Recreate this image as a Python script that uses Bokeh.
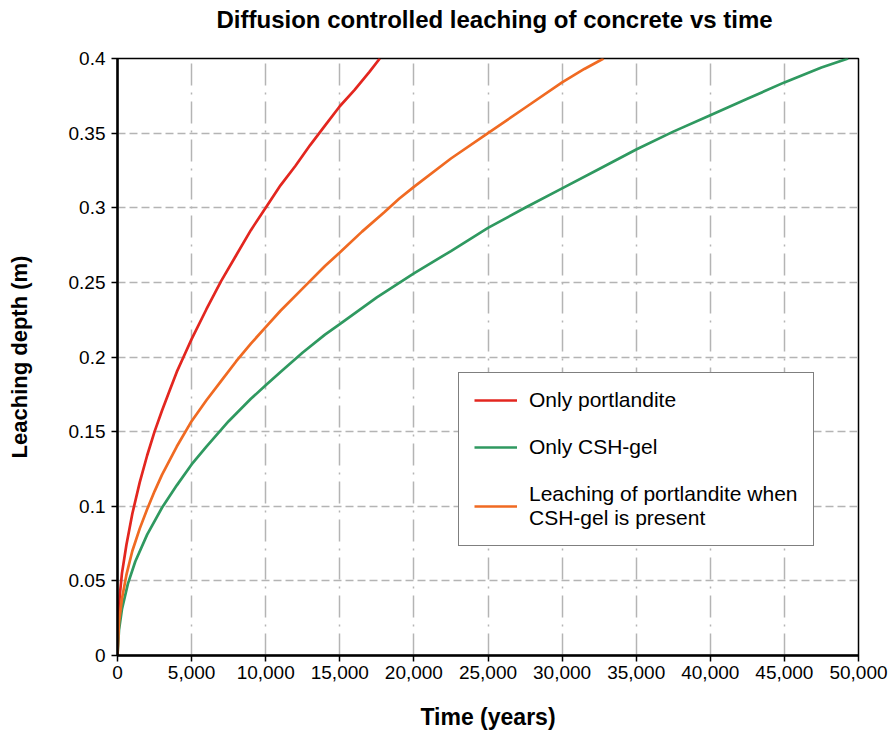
from bokeh.plotting import figure
from bokeh.models import (ColumnDataSource, Legend, LegendItem, FixedTicker,
                          NumeralTickFormatter, Range1d, Title)
from bokeh.embed import file_html
from bokeh.resources import INLINE

# Leaching depth (m) against time (years) for three leaching scenarios
red_time = [0, 50, 150, 300, 600, 1000, 1500, 2000, 2500, 3000, 3500, 4000,
            4500, 5000, 6000, 7000, 8000, 9000, 10000, 11000, 12000, 13000,
            14000, 15000, 16000, 17000, 17700]
red_depth = [0, 0.022, 0.04, 0.055, 0.074, 0.095, 0.116, 0.134, 0.15, 0.164,
             0.177, 0.19, 0.201, 0.212, 0.232, 0.251, 0.268, 0.285, 0.3, 0.315,
             0.328, 0.342, 0.355, 0.368, 0.379, 0.391, 0.4]

green_time = [0, 100, 300, 700, 1200, 2000, 3000, 4000, 5000, 6000, 7500, 9000,
              10000, 11000, 12500, 14000, 15000, 17500, 20000, 22500, 25000,
              27500, 30000, 32500, 35000, 37500, 40000, 42500, 45000, 47500,
              49300]
green_depth = [0, 0.017, 0.031, 0.048, 0.063, 0.081, 0.099, 0.114, 0.128, 0.14,
               0.157, 0.172, 0.181, 0.19, 0.203, 0.215, 0.222, 0.24, 0.256,
               0.271, 0.2865, 0.3, 0.313, 0.326, 0.339, 0.351, 0.362, 0.373,
               0.384, 0.394, 0.4]

orange_time = [0, 100, 300, 600, 1000, 1500, 2000, 2500, 3000, 4000, 5000, 6000,
               7000, 8000, 9000, 10000, 11000, 12500, 14000, 15000, 16500, 18000,
               19000, 20000, 22500, 25000, 27500, 30000, 31500, 32800]
orange_depth = [0, 0.022, 0.038, 0.054, 0.07, 0.085, 0.098, 0.11, 0.121, 0.14,
                0.157, 0.171, 0.184, 0.197, 0.209, 0.22, 0.231, 0.246, 0.261,
                0.27, 0.284, 0.297, 0.306, 0.314, 0.333, 0.35, 0.367, 0.384,
                0.393, 0.4]

title_text = "Diffusion controlled leaching of concrete vs time"
series_labels = ["Only portlandite", "Only CSH-gel",
                 "Leaching of portlandite when\nCSH-gel is present"]
x_ticks = [0, 5000, 10000, 15000, 20000, 25000, 30000, 35000, 40000, 45000, 50000]
y_ticks = [0, 0.05, 0.1, 0.15, 0.2, 0.25, 0.3, 0.35, 0.4]
y_tick_labels = ["0", "0.05", "0.1", "0.15", "0.2", "0.25", "0.3", "0.35", "0.4"]

FONT = "Liberation Sans"

p = figure(width=893, height=735, output_backend="svg", toolbar_location=None,
           x_range=Range1d(0, 50000), y_range=Range1d(0, 0.4),
           min_border_left=117, min_border_right=35,
           min_border_top=57, min_border_bottom=80)

p.outline_line_color = "black"
p.outline_line_width = 1.5
p.background_fill_color = "white"
p.border_fill_color = "white"

# chart title (outermost panel) with an empty spacer panel between it and the frame
p.title.text = title_text
p.title.align = "left"
p.title.offset = 99
p.title.text_font = FONT
p.title.text_font_size = "24px"
p.title.text_font_style = "bold"
p.title.text_color = "black"
p.title.standoff = 6
spacer = Title(text=" ", text_font_size="1px", standoff=20)
p.add_layout(spacer, "above")

# grids
p.xgrid.ticker = FixedTicker(ticks=x_ticks)
p.ygrid.ticker = FixedTicker(ticks=y_ticks)
p.xgrid.grid_line_color = "#b4b4b4"
p.xgrid.grid_line_width = 1.5
p.xgrid.grid_line_dash = "22 7 2 7"
p.ygrid.grid_line_color = "#b4b4b4"
p.ygrid.grid_line_width = 1.5
p.ygrid.grid_line_dash = "8 4"

# axes
for ax in (p.xaxis[0], p.yaxis[0]):
    ax.axis_line_color = "black"
    ax.axis_line_width = 2.5
    ax.major_tick_line_color = "black"
    ax.major_tick_line_width = 1.5
    ax.major_tick_out = 6
    ax.major_tick_in = 0
    ax.minor_tick_line_color = None
    ax.major_label_text_font = FONT
    ax.major_label_text_font_size = "19px"
    ax.major_label_text_color = "black"
    ax.axis_label_text_font = FONT
    ax.axis_label_text_font_style = "bold"
    ax.axis_label_text_color = "black"

p.xaxis.ticker = FixedTicker(ticks=x_ticks)
p.xaxis.formatter = NumeralTickFormatter(format="0,0")
p.xaxis.axis_label = "Time (years)"
p.xaxis.axis_label_text_font_size = "23px"
p.xaxis.major_label_standoff = 4
p.xaxis.axis_label_standoff = 22

p.yaxis.ticker = FixedTicker(ticks=y_ticks)
p.yaxis.major_label_overrides = {t: s for t, s in zip(y_ticks, y_tick_labels)}
p.yaxis.axis_label = "Leaching depth (m)"
p.yaxis.axis_label_text_font_size = "22px"
p.yaxis.major_label_standoff = 6
p.yaxis.axis_label_standoff = 34

# curves
series = [
    (red_time, red_depth, "#e3261f"),
    (green_time, green_depth, "#2f9960"),
    (orange_time, orange_depth, "#f06a22"),
]
items = []
for (t, d, color), label in zip(series, series_labels):
    src = ColumnDataSource(dict(t=t, d=d))
    r = p.line("t", "d", source=src, line_color=color, line_width=2.7)
    items.append(LegendItem(label=label, renderers=[r]))

legend = Legend(items=items, location=(341, 109))
legend.border_line_color = "black"
legend.border_line_width = 1.2
legend.background_fill_alpha = 1
legend.label_text_font = FONT
legend.label_text_font_size = "21px"
legend.label_text_color = "black"
legend.label_text_line_height = 1.15
legend.glyph_width = 43
legend.label_standoff = 12
legend.padding = 15
legend.spacing = 23
legend.margin = 0
p.add_layout(legend, "center")

open("out.html", "w").write(file_html(p, INLINE))
